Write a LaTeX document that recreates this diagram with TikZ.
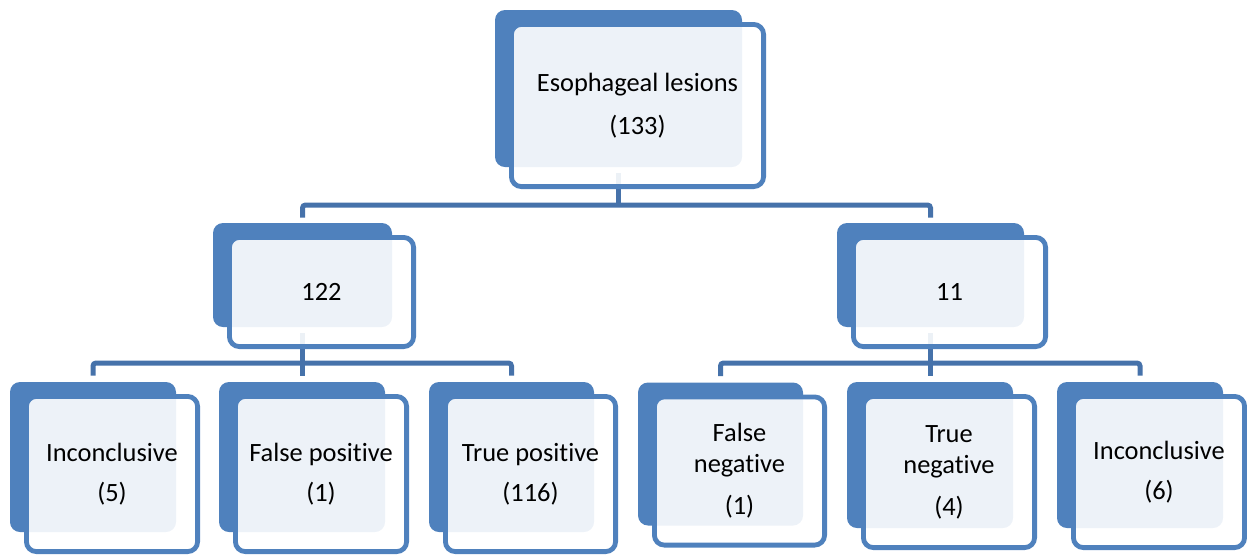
\documentclass[tikz,border=0pt]{standalone}
\usepackage{fontspec}
\setmainfont{Carlito}[RawFeature={-liga;-calt;-dlig}]
\usetikzlibrary{calc,backgrounds}
\definecolor{boxblue}{HTML}{4F81BD}
\definecolor{linkblue}{HTML}{4672AA}
\tikzset{
  backbox/.style={fill=boxblue, rounded corners=5pt, inner sep=0pt, draw=none},
  frontbox/.style={draw=boxblue, line width=2.4pt, fill=white, fill opacity=0.9, text opacity=1,
    rounded corners=5pt, inner sep=2pt, align=center, text=black,
    font=\fontsize{13.2pt}{15.5pt}\selectfont},
  link/.style={draw=linkblue, line width=2.5pt, rounded corners=1.5pt},
}
\newcommand\twobox[6]{%
  \node[backbox, minimum width={#4*0.5pt}, minimum height={#5*0.5pt}] (#1b) at (#2,#3) {};
  \node[frontbox, minimum width={(#4+5.2)*0.5pt}, minimum height={(#5+5.2)*0.5pt}] (#1) at ($(#1b.center)+(19,17)$) {#6};
}
\begin{document}
\begin{tikzpicture}[x=0.5pt, y=-0.5pt]
\useasboundingbox (0,0) rectangle (1247,554);
\twobox{top}{618.5}{88.5}{247}{157}{Esophageal lesions\\[6pt](133)}
\twobox{nA}{302.5}{275}{179}{104}{122}
\twobox{nB}{930.5}{275}{187}{104}{11}
\twobox{lA}{93}{457}{166}{150}{Inconclusive\\[4.5pt](5)}
\twobox{lB}{302}{457}{166}{150}{False positive\\[4.5pt](1)}
\twobox{lC}{511.5}{457}{165}{150}{True positive\\[4.5pt](116)}
\twobox{rA}{720.5}{454}{165}{143}{False\\negative\\[5.5pt](1)}
\twobox{rB}{930}{455}{166}{146}{True\\negative\\[5.5pt](4)}
\twobox{rC}{1140}{455}{166}{146}{Inconclusive\\[4.5pt](6)}
\coordinate (bus0) at (0,205);
\coordinate (bus1) at (0,363);
\begin{scope}[on background layer]
  \draw[link] ($(topb.south)+(0,6)$) -- (topb.south |- bus0);
  \draw[link] ($(nAb.north)+(0,-5)$) |- (bus0 -| nBb.north) -- ($(nBb.north)+(0,-5)$);
  \draw[link] ($(nAb.south)+(0,6)$) -- (nAb.south |- bus1);
  \draw[link] ($(lAb.north)+(0,-6)$) |- (bus1 -| lCb.north) -- ($(lCb.north)+(0,-6)$);
  \draw[link] ($(lBb.north)+(0,-6)$) -- (lBb.north |- bus1);
  \draw[link] ($(nBb.south)+(0,6)$) -- (nBb.south |- bus1);
  \draw[link] ($(rAb.north)+(0,-6)$) |- (bus1 -| rCb.north) -- ($(rCb.north)+(0,-6)$);
  \draw[link] ($(rBb.north)+(0,-6)$) -- (rBb.north |- bus1);
\end{scope}
\end{tikzpicture}
\end{document}
